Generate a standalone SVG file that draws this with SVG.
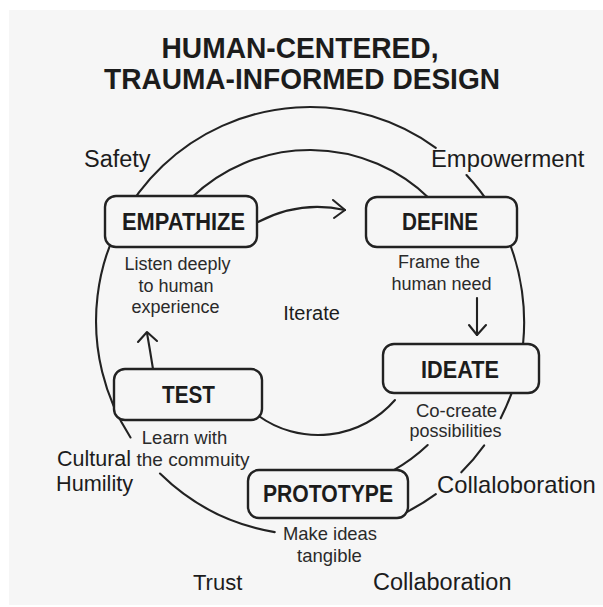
<svg xmlns="http://www.w3.org/2000/svg" width="603" height="607" viewBox="0 0 603 607">
  <style>
    .bg { fill: #f6f6f6; }
    .box { fill: #f6f6f6; stroke: #222; stroke-width: 2.4; }
    .line { fill: none; stroke: #222; stroke-width: 2.1; stroke-linecap: round; stroke-linejoin: round; }
    text { font-family: "Liberation Sans", Arial, sans-serif; fill: #1c1c1c; }
    .title { font-size: 30px; font-weight: bold; text-anchor: middle; }
    .step { font-size: 23px; font-weight: bold; text-anchor: middle; }
    .desc { font-size: 18px; text-anchor: middle; fill: #2a2a2a; }
    .value { font-size: 23.5px; }
  </style>

  <rect width="603" height="607" fill="#ffffff"/>
  <rect class="bg" x="9" y="10" width="594" height="595"/>

  <!-- Title -->
  <g id="title">
    <text class="title" x="300" y="58" textLength="277" lengthAdjust="spacingAndGlyphs">HUMAN-CENTERED,</text>
    <text class="title" x="302" y="89" textLength="396" lengthAdjust="spacingAndGlyphs">TRAUMA-INFORMED DESIGN</text>
  </g>

  <!-- Connectors: outer principle ring, inner cycle and step arrows -->
  <g id="connectors">
    <!-- outer ring, centre (310,321), r 214 -->
    <path class="line" d="M130.5,437.5 A214,214 0 0 1 435.8,147.9"/>
    <path class="line" d="M466.5,175 A214,214 0 0 1 500.7,418.2"/>
    <path class="line" d="M484.2,445.3 A214,214 0 0 1 461.3,472.3"/>
    <path class="line" d="M435.8,494.1 A214,214 0 0 1 407.2,511.7"/>
    <path class="line" d="M274.7,532.1 A214,214 0 0 1 160,473.6"/>
    <!-- inner ring, r 171 -->
    <path class="line" d="M191.2,198 A171,171 0 0 1 429.9,199"/>
    <path class="line" d="M427.7,445 A171,171 0 0 1 392.9,470.6"/>
    <!-- TEST to IDEATE lower arc -->
    <path class="line" d="M258,415.5 A102,102 0 0 0 395,400"/>
    <!-- EMPATHIZE to DEFINE -->
    <path class="line" d="M258,222 Q300,200 345,210"/>
    <polyline class="line" points="333,200 345,210 334,218"/>
    <!-- DEFINE to IDEATE -->
    <path class="line" d="M477,298 L477,335"/>
    <polyline class="line" points="469,325 477,335 486,325"/>
    <!-- TEST to EMPATHIZE -->
    <path class="line" d="M153,369 Q150,350 147,333"/>
    <polyline class="line" points="138,342 147,332 157,341"/>
  </g>

  <!-- Steps -->
  <g id="node-empathize">
    <rect class="box" x="105" y="196" width="152" height="51" rx="11"/>
    <text class="step" x="183.5" y="230" textLength="123" lengthAdjust="spacingAndGlyphs">EMPATHIZE</text>
    <text class="desc" x="177.5" y="270">Listen deeply</text>
    <text class="desc" x="176" y="292">to human</text>
    <text class="desc" x="175.5" y="313">experience</text>
  </g>

  <g id="node-define">
    <rect class="box" x="366" y="197" width="151" height="50" rx="11"/>
    <text class="step" x="440" y="230" textLength="76" lengthAdjust="spacingAndGlyphs">DEFINE</text>
    <text class="desc" x="439" y="268">Frame the</text>
    <text class="desc" x="441.5" y="290">human need</text>
  </g>

  <g id="node-ideate">
    <rect class="box" x="383" y="344" width="156" height="49" rx="11"/>
    <text class="step" x="460" y="378" textLength="78" lengthAdjust="spacingAndGlyphs">IDEATE</text>
    <text class="desc" x="456.5" y="417" style="font-size:18.5px">Co-create</text>
    <text class="desc" x="455.5" y="437">possibilities</text>
  </g>

  <g id="node-prototype">
    <rect class="box" x="248" y="470" width="160" height="48" rx="11"/>
    <text class="step" x="328" y="502" textLength="130" lengthAdjust="spacingAndGlyphs">PROTOTYPE</text>
    <text class="desc" x="330" y="540" style="font-size:18.4px">Make ideas</text>
    <text class="desc" x="329.5" y="562" style="font-size:18.5px">tangible</text>
  </g>

  <g id="node-test">
    <rect class="box" x="114" y="369" width="148" height="51" rx="11"/>
    <text class="step" x="188.5" y="403" textLength="53" lengthAdjust="spacingAndGlyphs">TEST</text>
    <text class="desc" x="184.5" y="444" style="font-size:18.5px">Learn with</text>
    <text class="desc" x="193" y="466" style="font-size:19px">the commuity</text>
  </g>

  <!-- Centre label -->
  <g id="node-iterate">
    <text x="311.5" y="320" style="font-size:20px;text-anchor:middle">Iterate</text>
  </g>

  <!-- Principles around the ring -->
  <g id="principles">
    <text class="value" x="84" y="167">Safety</text>
    <text class="value" x="431" y="167" style="font-size:23.8px">Empowerment</text>
    <text x="57" y="466" style="font-size:21.5px">Cultural</text>
    <text x="56" y="491" style="font-size:21.7px">Humility</text>
    <text class="value" x="437" y="493" style="font-size:23.8px">Collaloboration</text>
    <text x="193" y="590" style="font-size:22px">Trust</text>
    <text class="value" x="373" y="590">Collaboration</text>
  </g>
</svg>
